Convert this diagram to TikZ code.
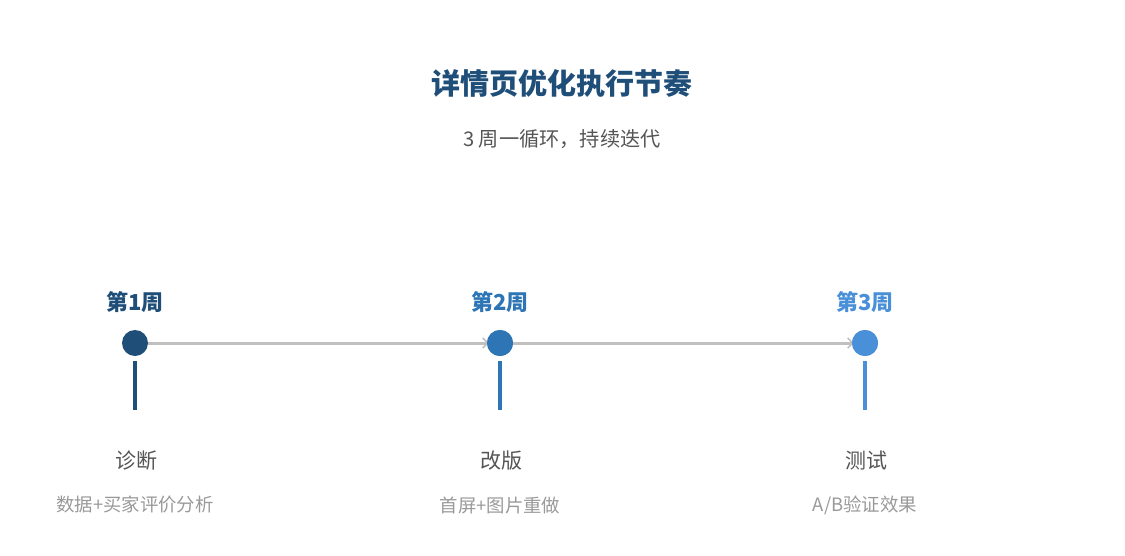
\documentclass[tikz,border=0pt]{standalone}
\usepackage{fontspec}
\setmainfont{Noto Sans CJK SC}
\usetikzlibrary{arrows.meta}
\definecolor{cA}{HTML}{1F4E79}
\definecolor{cB}{HTML}{2E75B6}
\definecolor{cC}{HTML}{4A90D9}
\definecolor{lineg}{HTML}{C0C0C0}
\definecolor{txtd}{HTML}{555555}
\definecolor{txtl}{HTML}{999999}
\begin{document}
\begin{tikzpicture}[x=1pt,y=1pt,
  dot/.style={circle,fill=#1,minimum size=26pt,inner sep=0pt},
  weeklbl/.style={font=\fontsize{22}{26}\selectfont\bfseries,text=#1},
  steplbl/.style={font=\fontsize{21}{25}\selectfont,text=txtd},
  sublbl/.style={font=\fontsize{18.4}{22}\selectfont,text=txtl},
  stem/.style={line width=4pt,draw=#1},
  flow/.style={line width=3pt,draw=lineg,-{Straight Barb[length=5pt,width=10pt,line width=1.6pt]}}]
\useasboundingbox (0,0) rectangle (1125,-555);
\node[font=\fontsize{29}{33}\selectfont\bfseries,text=cA] (title) at (562,-84) {详情页优化执行节奏};
\node[font=\fontsize{20.2}{24}\selectfont,text=txtd] (sub) at (562,-139) {3 周一循环，持续迭代};
% week 1
\node[weeklbl=cA] (w1) at (135,-302) {第1周};
\node[dot=cA] (d1) at (135,-343) {};
\coordinate (s1a) at (135,-361); \coordinate (s1b) at (135,-410);
\draw[stem=cA] (s1a) -- (s1b);
\node[steplbl] (l1) at (136,-461) {诊断};
\node[sublbl] (m1) at (135,-505) {数据+买家评价分析};
% week 2
\node[weeklbl=cB] (w2) at (500,-302) {第2周};
\node[dot=cB] (d2) at (500,-343) {};
\coordinate (s2a) at (500,-361); \coordinate (s2b) at (500,-410);
\draw[stem=cB] (s2a) -- (s2b);
\node[steplbl] (l2) at (501,-461) {改版};
\node[sublbl] (m2) at (500,-505) {首屏+图片重做};
% week 3
\node[weeklbl=cC] (w3) at (865,-302) {第3周};
\node[dot=cC] (d3) at (865,-343) {};
\coordinate (s3a) at (865,-361); \coordinate (s3b) at (865,-410);
\draw[stem=cC] (s3a) -- (s3b);
\node[steplbl] (l3) at (866,-461) {测试};
\node[sublbl] (m3) at (865,-505) {A/B验证效果};
% connectors
\draw[flow] (d1.east) -- ([xshift=2pt]d2.west);
\draw[flow] (d2.east) -- ([xshift=2pt]d3.west);
\node[dot=cB] at (d2) {};
\node[dot=cC] at (d3) {};
\end{tikzpicture}
\end{document}
